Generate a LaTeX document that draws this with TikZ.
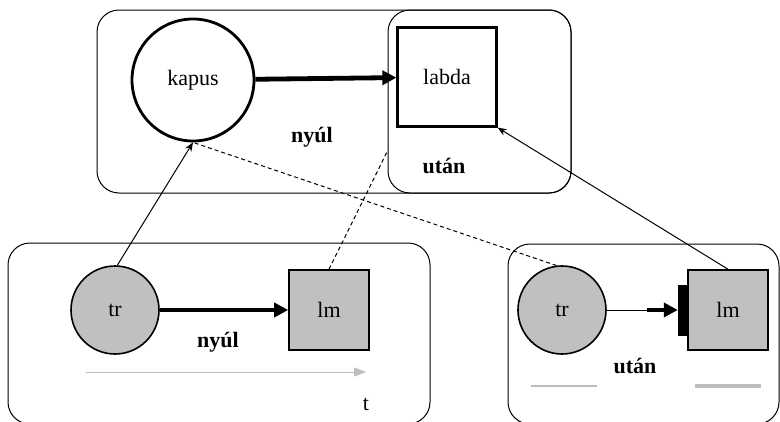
\documentclass[tikz,border=0pt]{standalone}
\usepackage{fontspec}
\setmainfont{Liberation Serif}
\usetikzlibrary{arrows.meta,positioning}
\definecolor{fillg}{RGB}{192,192,192}
\definecolor{lineg}{RGB}{190,190,190}
\tikzset{
  frame/.style={draw, line width=1pt, rounded corners=22pt},
  bigcirc/.style={circle, draw, line width=2.8pt, minimum size=122pt, inner sep=0pt, fill=white, font=\fontsize{22}{26}\selectfont},
  bigsq/.style={rectangle, draw, line width=2.2pt, minimum size=99pt, inner sep=0pt, fill=white, font=\fontsize{22}{26}\selectfont},
  gcirc/.style={circle, draw, line width=1.6pt, minimum size=88pt, inner sep=0pt, fill=fillg, font=\fontsize{22}{26}\selectfont},
  gsq/.style={rectangle, draw, line width=1.6pt, minimum size=80pt, inner sep=0pt, fill=fillg, font=\fontsize{22}{26}\selectfont},
  lbl/.style={font=\fontsize{22}{26}\selectfont\bfseries},
  thickarr/.style={line width=4.8pt, -{Triangle[length=14pt,width=14pt]}},
  thinarr/.style={line width=1pt, -{Stealth[length=9pt,width=7pt]}},
  dashline/.style={line width=1pt, dash pattern=on 4pt off 3pt},
}
\begin{document}
\begin{tikzpicture}[x=1pt,y=-1pt]
\useasboundingbox (0,0) rectangle (780,421);
% frames
\draw[frame] (97,10) rectangle (571,193);
\draw[frame] (388,10) rectangle (571,193);
\draw[frame] (8,243) rectangle (430,424);
\draw[frame] (508,244) rectangle (779,424);
% top nodes
\node[bigcirc] (kapus) at (193,80) {kapus};
\node[bigsq] (labda) at (447,77) {labda};
\node[lbl] (nyul1) at (312,137) {nyúl};
\node[lbl] (utan1) at (444,166) {után};
\draw[thickarr] (kapus) -- (labda);
% bottom left
\node[gcirc] (tr1) at (115,310) {tr};
\node[gsq] (lm1) at (329,310) {lm};
\node[lbl] (nyul2) at (218,342) {nyúl};
\draw[thickarr] (tr1) -- (lm1);
\coordinate (ta) at (86,372);
\coordinate (tb) at (366,372);
\draw[lineg, line width=1pt, -{Triangle[length=12pt,width=9pt]}] (ta) -- (tb);
\node[font=\fontsize{22}{26}\selectfont] (t) at (366,404) {t};
% bottom right
\node[gcirc] (tr2) at (562,310) {tr};
\node[gsq] (lm2) at (728,310) {lm};
\node[fill=black, minimum width=10pt, minimum height=51pt, inner sep=0pt] (bar) at (683,310) {};
\coordinate (mid) at (647,310);
\draw[line width=1pt] (tr2.east) -- (mid);
\draw[line width=4.8pt, -{Triangle[length=14pt,width=14pt]}] (mid) -- (bar.west);
\node[lbl] (utan2) at (635,366) {után};
\coordinate (g1a) at (531,386);
\coordinate (g1b) at (597,386);
\coordinate (g2a) at (695,386);
\coordinate (g2b) at (761,386);
\draw[lineg, line width=2pt] (g1a) -- (g1b);
\draw[lineg, line width=4pt] (g2a) -- (g2b);
% connectors
\draw[thinarr] (tr1.87) -- (kapus.south);
\draw[dashline] (tr2.97) -- (kapus.south);
\coordinate (dashend) at (388,150);
\draw[dashline] (lm1.north) -- (dashend);
\draw[thinarr] (lm2.north) -- (labda.south east);
\end{tikzpicture}
\end{document}
